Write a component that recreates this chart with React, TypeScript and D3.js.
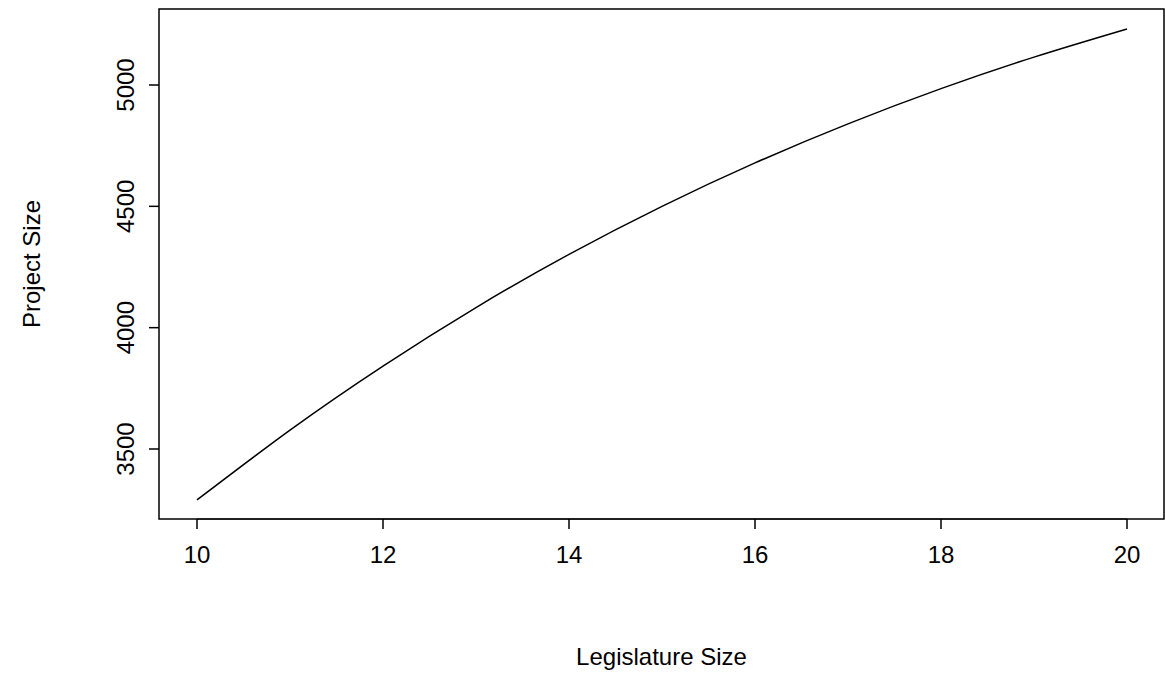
import React from "react";
import * as d3 from "d3";

const legislatureSize = [10, 11, 12, 13, 14, 15, 16, 17, 18, 19, 20];
const projectSize = [3290, 3578, 3842, 4083, 4302, 4500, 4679, 4840, 4985, 5115, 5231];
const xTicks = [10, 12, 14, 16, 18, 20];
const yTicks = [3500, 4000, 4500, 5000];

const W = 1165, H = 675;
const box = { l: 159, r: 1164, t: 9, b: 519 };

export default function App() {
  const x = d3.scaleLinear().domain([10, 20]).range([197, 1127]);
  const y = d3.scaleLinear().domain([3500, 5000]).range([449, 85]);
  const pts = legislatureSize.map((v, i) => [v, projectSize[i]] as [number, number]);
  const line = d3.line<[number, number]>().x(d => x(d[0])).y(d => y(d[1])).curve(d3.curveNatural);
  const font = "Liberation Sans, Arial, sans-serif";
  return (
    <svg width={W} height={H} style={{ position: "absolute", left: 0, top: 0, background: "#fff" }} fontFamily={font}>
      <rect x={box.l} y={box.t} width={box.r - box.l} height={box.b - box.t} fill="none" stroke="#000" strokeWidth={1.5} />
      <path d={line(pts) ?? ""} fill="none" stroke="#000" strokeWidth={1.5} />
      <line x1={x(10)} x2={x(20)} y1={box.b} y2={box.b} stroke="#000" />
      {xTicks.map(t => (
        <g key={t}>
          <line x1={x(t)} x2={x(t)} y1={box.b} y2={box.b + 10} stroke="#000" strokeWidth={1.5} />
          <text x={x(t)} y={563} fontSize={24} textAnchor="middle">{t}</text>
        </g>
      ))}
      {yTicks.map(t => (
        <g key={t}>
          <line x1={box.l - 10} x2={box.l} y1={y(t)} y2={y(t)} stroke="#000" strokeWidth={1.5} />
          <text transform={`translate(134,${y(t)}) rotate(-90)`} fontSize={24} textAnchor="middle">{t}</text>
        </g>
      ))}
      <text x={(box.l + box.r) / 2} y={665} fontSize={24} textAnchor="middle">Legislature Size</text>
      <text transform={`translate(40,${(box.t + box.b) / 2}) rotate(-90)`} fontSize={24} textAnchor="middle">Project Size</text>
    </svg>
  );
}
